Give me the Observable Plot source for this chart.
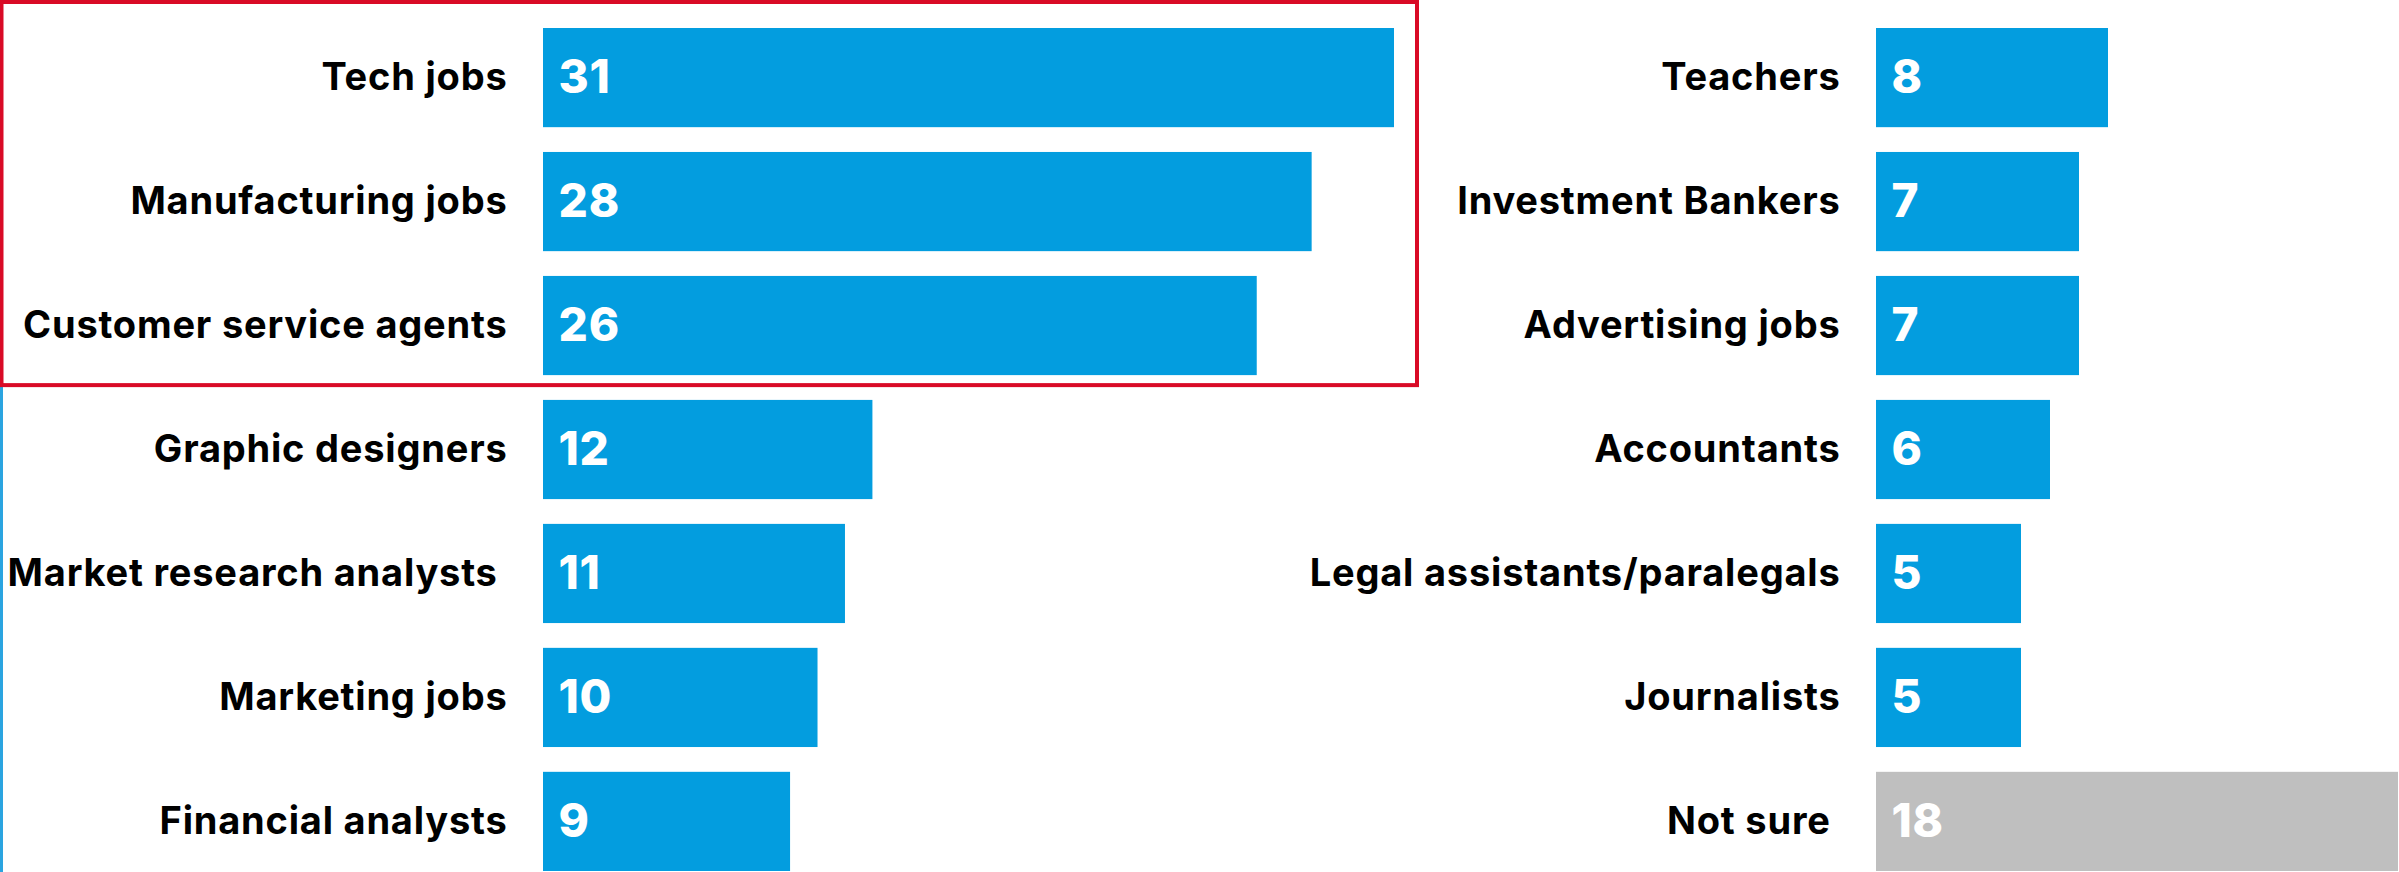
<!DOCTYPE html>
<html>
<head>
<meta charset="utf-8">
<script src="https://cdn.jsdelivr.net/npm/d3@7"></script>
<script src="https://cdn.jsdelivr.net/npm/@observablehq/plot@0.6"></script>
<style>
  html, body { margin: 0; padding: 0; background: #fff; }
  #wrap { position: relative; width: 2399px; height: 872px; overflow: hidden; font-family: Inter, "Open Sans", sans-serif; }
  #wrap > svg, #wrap > .layer { position: absolute; left: 0; top: 0; }
  #wrap text { letter-spacing: 0.8px; }
</style>
</head>
<body>
<div id="wrap"></div>
<script>
// ---- data ----
const leftCategories = ["Tech jobs", "Manufacturing jobs", "Customer service agents", "Graphic designers", "Market research analysts\u00a0", "Marketing jobs", "Financial analysts"];
const leftValues = [31, 28, 26, 12, 11, 10, 9];
const rightCategories = ["Teachers", "Investment Bankers", "Advertising jobs", "Accountants", "Legal assistants/paralegals", "Journalists", "Not sure\u00a0"];
const rightValues = [8, 7, 7, 6, 5, 5, 18];
const highlighted = ["Tech jobs", "Manufacturing jobs", "Customer service agents"];

const BLUE = "#039ddf";
const GRAY = "#bfbfbf";
const W = 2399, H = 872;

const leftData = leftCategories.map((c, i) => ({cat: c, value: leftValues[i], kind: "answer"}));
const rightData = rightCategories.map((c, i) => ({cat: c, value: rightValues[i], kind: c.trim() === "Not sure" ? "unsure" : "answer"}));

function panel(data, categories, xDomain, xRange) {
  return Plot.plot({
    width: W,
    height: H,
    marginLeft: xRange[0],
    marginRight: W - xRange[1],
    marginTop: 0,
    marginBottom: 0,
    style: {background: "transparent", fontFamily: "Inter, 'Open Sans', sans-serif", color: "#000", overflow: "visible"},
    x: {domain: xDomain, range: xRange, axis: null},
    y: {domain: categories, range: [28, 871], paddingInner: 0.2, paddingOuter: 0, round: false, label: null},
    color: {domain: ["answer", "unsure"], range: [BLUE, GRAY]},
    marks: [
      Plot.barX(data, {y: "cat", x: "value", fill: "kind"}),
      Plot.text(data, {y: "cat", x: 0, text: d => String(d.value), dx: 15, textAnchor: "start",
        fill: "white", fontSize: 46, fontWeight: 800}),
      Plot.axisY({tickSize: 0, tickPadding: 36, fontSize: 38, fontWeight: 700, fill: "#000", label: null})
    ]
  });
}

const wrap = document.getElementById("wrap");
const left = panel(leftData, leftCategories, [0, 31], [543, 1394]);
const right = panel(rightData, rightCategories, [0, 18], [1876, 2398]);
wrap.appendChild(left);
wrap.appendChild(right);

// highlight box and left edge rule, placed from the left panel's scales
const ys = left.scale("y"), xs = left.scale("x");
const yTop = ys.apply(highlighted[0]);
const yBot = ys.apply(highlighted[highlighted.length - 1]) + ys.bandwidth;
const xRight = xs.apply(d3.max(leftValues));
const over = d3.select(wrap).append("svg").attr("class", "layer").attr("width", W).attr("height", H);
const boxTop = yTop - 26, boxBot = yBot + 10, boxRight = xRight + 23;
over.append("line").attr("x1", 1.5).attr("x2", 1.5).attr("y1", boxBot).attr("y2", H)
  .attr("stroke", "#2aa4e0").attr("stroke-width", 3);
over.append("rect").attr("x", 1.5).attr("y", boxTop).attr("width", boxRight - 1.5).attr("height", boxBot - boxTop)
  .attr("fill", "none").attr("stroke", "#d90a26").attr("stroke-width", 4);
</script>
</body>
</html>
